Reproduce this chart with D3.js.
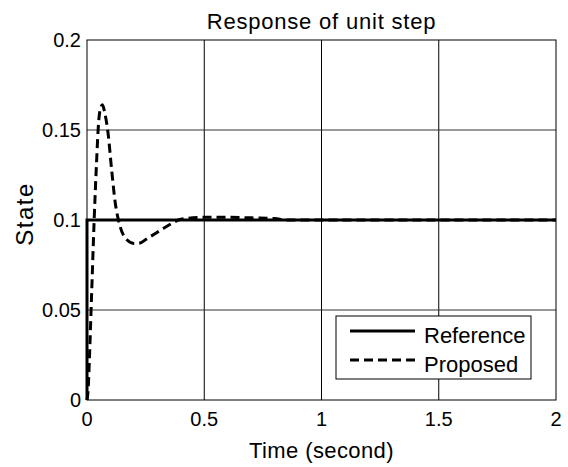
<html>
<head>
  <script src="https://d3js.org/d3.v7.min.js"></script>
  <style>
    body { margin: 0; background: white; }
    text { font-family: "Liberation Sans", Arial, sans-serif; fill: black; }
  </style>
</head>
<body>
<script>
  // data
  const refT = [0, 0, 2];
  const refY = [0, 0.1, 0.1];
  const propT = [0, 0.005, 0.01, 0.02, 0.03, 0.04, 0.05, 0.06, 0.066, 0.075, 0.09, 0.105, 0.12, 0.14, 0.17, 0.2, 0.22, 0.26, 0.31, 0.36, 0.4, 0.5, 0.6, 0.7, 0.8, 0.85, 2];
  const propY = [0, 0.006, 0.022, 0.06, 0.098, 0.13, 0.155, 0.163, 0.164, 0.16, 0.148, 0.128, 0.11, 0.097, 0.089, 0.087, 0.087, 0.09, 0.094, 0.098, 0.1004, 0.1015, 0.1015, 0.1012, 0.1008, 0.1, 0.1];
  const xTicks = [0, 0.5, 1, 1.5, 2];
  const yTicks = [0, 0.05, 0.1, 0.15, 0.2];
  const legendNames = ["Reference", "Proposed"];

  const width = 568, height = 467;
  const margin = { top: 40, right: 12, bottom: 67, left: 87 };

  const svg = d3.select("body").append("svg")
    .attr("width", width)
    .attr("height", height);

  const x = d3.scaleLinear().domain([0, 2]).range([margin.left, width - margin.right]);
  const y = d3.scaleLinear().domain([0, 0.2]).range([height - margin.bottom, margin.top]);

  // grid
  svg.append("g").selectAll("line.gx")
    .data(xTicks.slice(1, -1))
    .join("line")
    .attr("x1", d => x(d)).attr("x2", d => x(d))
    .attr("y1", y(0)).attr("y2", y(0.2))
    .attr("stroke", "#000").attr("stroke-width", 1);
  svg.append("g").selectAll("line.gy")
    .data(yTicks.slice(1, -1))
    .join("line")
    .attr("y1", d => y(d)).attr("y2", d => y(d))
    .attr("x1", x(0)).attr("x2", x(2))
    .attr("stroke", "#333").attr("stroke-width", 1);

  // frame
  svg.append("rect")
    .attr("x", x(0)).attr("y", y(0.2))
    .attr("width", x(2) - x(0)).attr("height", y(0) - y(0.2))
    .attr("fill", "none").attr("stroke", "#000").attr("stroke-width", 1);

  // ticks labels
  svg.append("g").selectAll("text")
    .data(xTicks)
    .join("text")
    .attr("x", d => x(d)).attr("y", y(0) + 26)
    .attr("text-anchor", "middle")
    .attr("font-size", 20)
    .text(d => d);
  svg.append("g").selectAll("text")
    .data(yTicks)
    .join("text")
    .attr("x", x(0) - 6).attr("y", d => y(d) + 7)
    .attr("text-anchor", "end")
    .attr("font-size", 20)
    .text(d => d);

  // lines
  const line = d3.line().x(d => x(d[0])).y(d => y(d[1]));
  svg.append("path")
    .datum(refT.map((t, i) => [t, refY[i]]))
    .attr("d", line)
    .attr("fill", "none").attr("stroke", "#000").attr("stroke-width", 3);
  svg.append("path")
    .datum(propT.map((t, i) => [t, propY[i]]))
    .attr("d", d3.line().curve(d3.curveMonotoneX).x(d => x(d[0])).y(d => y(d[1])))
    .attr("fill", "none").attr("stroke", "#000").attr("stroke-width", 3)
    .attr("stroke-dasharray", "9,5");

  // titles
  svg.append("text")
    .attr("x", (x(0) + x(2)) / 2).attr("y", 29)
    .attr("text-anchor", "middle").attr("font-size", 22)
    .attr("letter-spacing", 0.8)
    .text("Response of unit step");
  svg.append("text")
    .attr("x", (x(0) + x(2)) / 2).attr("y", 458)
    .attr("text-anchor", "middle").attr("font-size", 22)
    .attr("letter-spacing", 0.4)
    .text("Time (second)");
  svg.append("text")
    .attr("transform", `translate(33, ${y(0.1) - 6}) rotate(-90)`)
    .attr("text-anchor", "middle").attr("font-size", 24)
    .attr("letter-spacing", 1.5)
    .text("State");

  // legend
  const lg = svg.append("g").attr("transform", "translate(336, 316)");
  lg.append("rect").attr("width", 195).attr("height", 63)
    .attr("fill", "white").attr("stroke", "#000").attr("stroke-width", 1);
  legendNames.forEach((n, i) => {
    lg.append("line")
      .attr("x1", 14).attr("x2", 79)
      .attr("y1", 15 + i * 29).attr("y2", 15 + i * 29)
      .attr("stroke", "#000").attr("stroke-width", 3)
      .attr("stroke-dasharray", i ? "9,5" : null);
    lg.append("text")
      .attr("x", 88).attr("y", 27 + i * 29)
      .attr("font-size", 22)
      .text(n);
  });
</script>
</body>
</html>
